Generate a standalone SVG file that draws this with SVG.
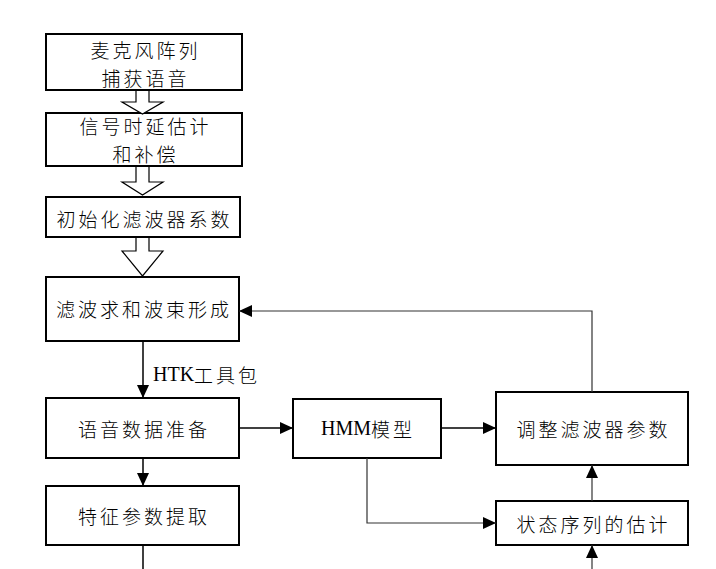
<svg xmlns="http://www.w3.org/2000/svg" width="716" height="569" viewBox="0 0 716 569">
<style>
.box{fill:#fff;stroke:#000;stroke-width:2}
.t{font-family:"Noto Sans CJK SC","Liberation Serif",serif;font-size:19px;font-weight:300;letter-spacing:3px;text-anchor:middle;dominant-baseline:central;fill:#000}
.lat{font-family:"Liberation Serif","Noto Sans CJK SC",serif;font-size:20px;font-weight:400;letter-spacing:0}
.c{fill:none;stroke:#000;stroke-width:1.5}
.g{fill:none;stroke:#333;stroke-width:1.2}
.hol{fill:#fff;stroke:#000;stroke-width:1.2}
</style>
<defs>
<marker id="ah" markerUnits="userSpaceOnUse" markerWidth="14" markerHeight="12" refX="13" refY="6" orient="auto">
<path d="M0,0 L13,6 L0,12 Z" fill="#000"/>
</marker>
</defs>
<g id="n1"><rect class="box" x="46" y="34" width="196" height="56"/><text class="t" x="145.5" y="49.5">麦克风阵列</text><text class="t" x="145.5" y="77.5">捕获语音</text></g>
<g id="n2"><rect class="box" x="46" y="113" width="196" height="53"/><text class="t" x="145.5" y="125">信号时延估计</text><text class="t" x="145.5" y="153">和补偿</text></g>
<g id="n3"><rect class="box" x="46" y="197" width="194" height="40"/><text class="t" x="144.5" y="218">初始化滤波器系数</text></g>
<g id="n4"><rect class="box" x="46" y="277" width="193" height="64"/><text class="t" x="144" y="308">滤波求和波束形成</text></g>
<g id="n5"><rect class="box" x="46" y="398" width="193" height="60"/><text class="t" x="144" y="428">语音数据准备</text></g>
<g id="n6"><rect class="box" x="46" y="486" width="193" height="59"/><text class="t" x="144" y="515">特征参数提取</text></g>
<g id="n7"><rect class="box" x="293" y="399" width="148" height="59"/><text class="t" x="368" y="428"><tspan class="lat">HMM</tspan>模型</text></g>
<g id="n8"><rect class="box" x="496" y="392" width="192" height="73"/><text class="t" x="593.5" y="428">调整滤波器参数</text></g>
<g id="n9"><rect class="box" x="496" y="501" width="192" height="44"/><text class="t" x="593.5" y="523">状态序列的估计</text></g>
<g id="connectors">
<path class="hol" d="M136,91 V102 H122 L142.5,114 L163,102 H149 V91"/>
<path class="hol" d="M136,167 V182 H122 L142.5,195 L163,182 H149 V167"/>
<path class="hol" d="M136,238 V251 H122 L142.5,276 L163,251 H149 V238"/>
<path class="c" d="M143,341 V398" marker-end="url(#ah)"/>
<text class="t" x="153" y="374" style="text-anchor:start"><tspan class="lat">HTK</tspan>工具包</text>
<path class="c" d="M143,458 V486" marker-end="url(#ah)"/>
<path class="c" d="M143,545 V569"/>
<path class="c" d="M239,428 H293" marker-end="url(#ah)"/>
<path class="c" d="M441,428 H496" marker-end="url(#ah)"/>
<path class="g" d="M367,458 V523 H496" marker-end="url(#ah)"/>
<path class="g" d="M592,501 V465" marker-end="url(#ah)"/>
<path class="g" d="M592,569 V545" marker-end="url(#ah)"/>
<path class="g" d="M592,392 V311 H239" marker-end="url(#ah)"/>
</g>
</svg>
